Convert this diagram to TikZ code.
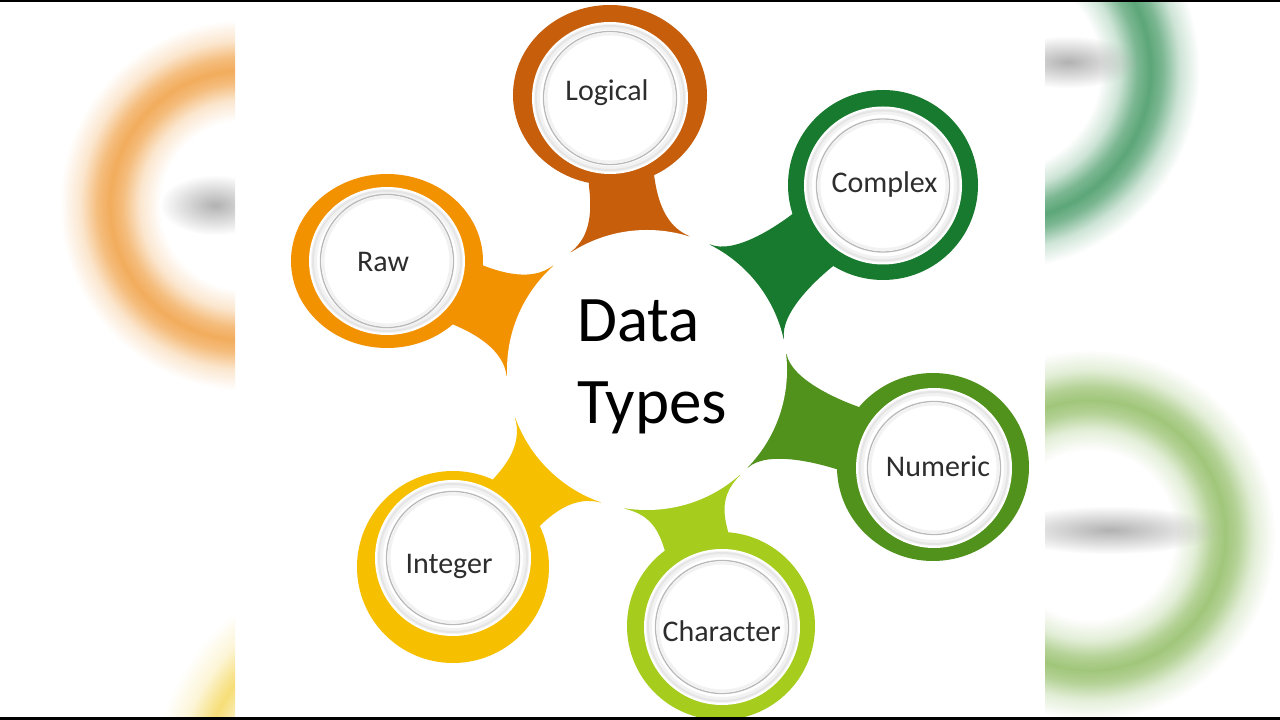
\documentclass[tikz,border=0pt]{standalone}
\usepackage{fontspec}
\setmainfont{Carlito}
\usetikzlibrary{fadings}
\definecolor{cLogical}{RGB}{198,94,12}
\definecolor{cComplex}{RGB}{24,122,46}
\definecolor{cNumeric}{RGB}{80,146,28}
\definecolor{cChar}{RGB}{166,204,30}
\definecolor{cInteger}{RGB}{246,192,0}
\definecolor{cRaw}{RGB}{243,146,0}
\definecolor{bOrange}{RGB}{242,172,92}
\definecolor{bGreenA}{RGB}{92,166,120}
\definecolor{bGreenB}{RGB}{160,198,122}
\definecolor{bYellow}{RGB}{246,222,120}
\definecolor{labelgray}{RGB}{45,45,45}
\pgfdeclareradialshading{blurOrange}{\pgfpointorigin}{color(0bp)=(white); color(9.4bp)=(white); color(11.7bp)=(bOrange!30!white); color(13.6bp)=(bOrange!80!white); color(15bp)=(bOrange); color(16.4bp)=(bOrange!80!white); color(18.3bp)=(bOrange!30!white); color(20.6bp)=(white); color(50bp)=(white)}
\pgfdeclareradialshading{blurGreenA}{\pgfpointorigin}{color(0bp)=(white); color(11.1bp)=(white); color(13.3bp)=(bGreenA!30!white); color(15.2bp)=(bGreenA!80!white); color(16.7bp)=(bGreenA); color(18.1bp)=(bGreenA!80!white); color(20bp)=(bGreenA!30!white); color(22.2bp)=(white); color(50bp)=(white)}
\pgfdeclareradialshading{blurGreenB}{\pgfpointorigin}{color(0bp)=(white); color(9.4bp)=(white); color(11.7bp)=(bGreenB!30!white); color(13.6bp)=(bGreenB!80!white); color(15bp)=(bGreenB); color(16.4bp)=(bGreenB!80!white); color(18.3bp)=(bGreenB!30!white); color(20.6bp)=(white); color(50bp)=(white)}
\pgfdeclareradialshading{blurYellow}{\pgfpointorigin}{color(0bp)=(white); color(13bp)=(white); color(15.5bp)=(bYellow!30!white); color(17.2bp)=(bYellow!80!white); color(18bp)=(bYellow); color(18.8bp)=(bYellow!80!white); color(20.5bp)=(bYellow!30!white); color(23bp)=(white); color(50bp)=(white)}
\tikzfading[name=blobfade, inner color=transparent!0, outer color=transparent!100]
\tikzset{
  lbl/.style={font=\fontsize{30}{36}\selectfont, text=labelgray, inner sep=0pt},
  titletext/.style={font=\fontsize{65}{76}\selectfont, text=black, inner sep=0pt},
  hubdisk/.style={circle, fill=white, minimum size=280pt, inner sep=0pt},
  blob/.style={fill=gray!60, path fading=blobfade},
}
\begin{document}
\begin{tikzpicture}[x=1pt,y=1pt]
\useasboundingbox (0,0) rectangle (1280,720);
\fill[white] (0,0) rectangle (1280,720);
% blurred side panels
\begin{scope}
  \clip (0,0) rectangle (235,720);
  \shade[shading=blurOrange] (245,515) circle (225);
  \shade[shading=blurYellow] (380,-70) circle (250);
  \fill[blob] (215,515) ellipse (55 and 30);
\end{scope}
\begin{scope}
  \clip (1045,0) rectangle (1280,720);
  \shade[shading=blurGreenA] (1000,650) circle (225);
  \shade[shading=blurGreenB] (1090,185) circle (225);
  \fill[blob] (1068,658) ellipse (70 and 26);
  \fill[blob] (1110,190) ellipse (110 and 24);
\end{scope}
% centre
\coordinate (C) at (647,350);
\foreach \n/\sx/\sy in {logical/610/625, complex/883/535, numeric/933/253, character/721/94, integer/453/153, raw/387/459}{
  \coordinate (S-\n) at (\sx,\sy);
}
% connectors
\foreach \n/\sx/\sy/\col in {logical/610/625/cLogical, complex/883/535/cComplex, numeric/933/253/cNumeric, character/721/94/cChar, integer/453/153/cInteger, raw/387/459/cRaw}{
  \pgfmathsetmacro\ang{atan2(350-\sy,647-\sx)}
  \pgfmathsetmacro\dd{veclen(647-\sx,350-\sy)}
  \begin{scope}[shift={(S-\n)}, rotate=\ang]
    \fill[\col] (0,0) -- (86,-33) .. controls (110,-33) and ({\dd-140},-37) .. ({\dd-127},-60) -- (\dd,0) -- ({\dd-127},60) .. controls ({\dd-140},37) and (110,33) .. (86,33) -- cycle;
  \end{scope}
}
\node[hubdisk] (hub) at (C) {};
\node[titletext, anchor=base west] (t1) at (577,378) {Data};
\node[titletext, anchor=base west] (t2) at (577,296) {Types};
% satellites
\foreach \n/\rx/\ry/\ix/\iy/\wx/\wy/\col/\lab/\lx/\ly in {
 logical/97/90/610/622/78/76/cLogical/Logical/607/619,
 complex/95/95/883/534.5/79/79/cComplex/Complex/884.5/527,
 numeric/96/94/934/252/78/80/cNumeric/Numeric/938/243.3,
 character/94/94/722/93/78/78/cChar/Character/721.7/78.3,
 integer/96/96/453/162/78/78/cInteger/Integer/449/146.7,
 raw/96/87/387/459/78/74/cRaw/Raw/383/448}{
  \fill[\col] (S-\n) ellipse ({\rx} and {\ry});
  \fill[white] (\ix,\iy) ellipse ({\wx} and {\wy});
  \draw[gray!10, line width=6pt] (\ix,\iy) ellipse ({\wx-5} and {\wy-5});
  \draw[gray!20, line width=2pt] (\ix,\iy) ellipse ({\wx-4} and {\wy-4});
  \draw[gray!55, line width=1.3pt] (\ix,\iy) circle (66.5);
  \draw[gray!10, line width=3pt] (\ix,\iy) circle (64);
  \node[lbl, anchor=base] (L-\n) at (\lx,\ly) {\lab};
}
% black bars
\fill[black] (0,717.5) rectangle (1280,720);
\fill[black] (0,0) rectangle (1280,2.5);
\end{tikzpicture}
\end{document}
